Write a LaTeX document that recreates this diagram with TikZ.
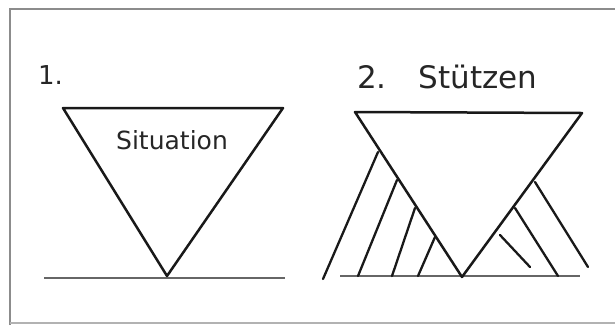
\documentclass[tikz,border=0pt]{standalone}
\usepackage{fontspec}
\setmainfont{DejaVu Sans}
\begin{document}
\begin{tikzpicture}[x=1pt,y=-1pt,
  frame/.style={draw=black!45,line width=2.5pt},
  edge/.style={draw=black!90,line width=2.5pt,line cap=round,line join=round},
  ground/.style={draw=black!60,line width=2.2pt},
  strut/.style={draw=black!90,line width=2.3pt,line cap=round},
  lbl/.style={inner sep=0pt,text=black!85}]
\useasboundingbox (0,0) rectangle (615,325);
% frame
\draw[frame] (10,325) -- (10,9) -- (615,9);
\draw[draw=black!30,line width=1.5pt] (10,323) -- (615,323);

% panel 1
\node[lbl,font=\fontsize{26}{26}\selectfont,anchor=base west] (n1) at (38,84) {1.};
\coordinate (a1) at (63,108);
\coordinate (b1) at (283,108);
\coordinate (c1) at (167,276);
\coordinate (g1l) at (44,278);
\coordinate (g1r) at (285,278);
\draw[ground] (g1l) -- (g1r);
\draw[edge] (a1) -- (b1) -- (c1) -- cycle;
\node[lbl,font=\fontsize{25}{25}\selectfont] (sit) at (172,140) {Situation};

% panel 2
\node[lbl,font=\fontsize{31}{31}\selectfont,anchor=base west] (n2) at (357,88) {2.\hspace{32pt}Stützen};
\coordinate (a2) at (355,112);
\coordinate (b2) at (582,113);
\coordinate (c2) at (462,277);
\coordinate (g2l) at (340,276);
\coordinate (g2r) at (580,276);
\draw[ground] (g2l) -- (g2r);
\draw[edge] (a2) -- (b2) -- (c2) -- cycle;

% struts left
\coordinate (s1t) at (378,152); \coordinate (s1b) at (323,279);
\coordinate (s2t) at (397,180); \coordinate (s2b) at (358,276);
\coordinate (s3t) at (415,208); \coordinate (s3b) at (392,276);
\coordinate (s4t) at (435,237); \coordinate (s4b) at (418,276);
\draw[strut] (s1t) -- (s1b);
\draw[strut] (s2t) -- (s2b);
\draw[strut] (s3t) -- (s3b);
\draw[strut] (s4t) -- (s4b);
% struts right
\coordinate (r1t) at (535,182); \coordinate (r1b) at (588,267);
\coordinate (r2t) at (515,208); \coordinate (r2b) at (558,276);
\coordinate (r3t) at (500,235); \coordinate (r3b) at (530,267);
\draw[strut] (r1t) -- (r1b);
\draw[strut] (r2t) -- (r2b);
\draw[strut] (r3t) -- (r3b);
\end{tikzpicture}
\end{document}
